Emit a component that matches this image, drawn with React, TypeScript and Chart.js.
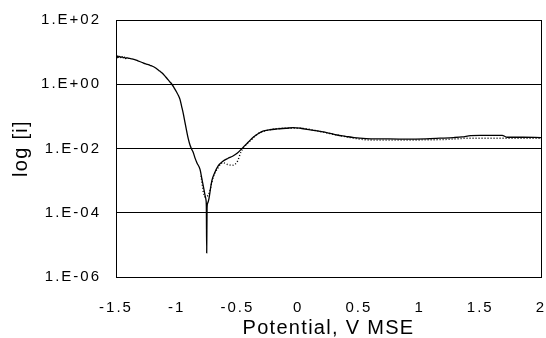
import React, { useEffect, useRef } from "react";
import { Chart, registerables } from "chart.js";

Chart.register(...registerables);

// Potential (V MSE) and log10 of current for the solid curve
const solidPotential = [
  -1.5, -1.495, -1.49, -1.485, -1.48, -1.47, -1.46, -1.45, -1.44, -1.43, -1.42, -1.41, -1.4,
  -1.38, -1.36, -1.34, -1.32, -1.3, -1.28, -1.26, -1.24, -1.22, -1.2, -1.18, -1.16, -1.14,
  -1.12, -1.1, -1.08, -1.06, -1.04, -1.02, -1.0, -0.985, -0.973, -0.96, -0.945, -0.932, -0.918,
  -0.904, -0.89, -0.876, -0.863, -0.849, -0.833, -0.808, -0.792, -0.777, -0.767, -0.759, -0.756,
  -0.753, -0.75, -0.745, -0.734, -0.72, -0.709, -0.69, -0.66, -0.62, -0.58, -0.54, -0.5, -0.45,
  -0.41, -0.37, -0.33, -0.29, -0.24, -0.17, -0.1, -0.04, 0.02, 0.1, 0.18, 0.25, 0.32, 0.39, 0.46,
  0.56, 0.7, 0.89, 1.05, 1.17, 1.28, 1.35, 1.42, 1.5, 1.6, 1.68, 1.72, 1.85, 2.0,
];
const solidLogCurrent = [
  0.78, 0.86, 0.82, 0.88, 0.84, 0.87, 0.83, 0.86, 0.82, 0.84, 0.8, 0.83, 0.81,
  0.8, 0.78, 0.76, 0.73, 0.7, 0.67, 0.64, 0.62, 0.59, 0.56, 0.52, 0.47, 0.41,
  0.35, 0.27, 0.18, 0.09, 0.0, -0.12, -0.25, -0.36, -0.47, -0.68, -0.93, -1.19, -1.46,
  -1.71, -1.9, -2.03, -2.13, -2.3, -2.45, -2.65, -2.96, -3.25, -3.45, -3.6, -3.8,
  -5.25, -3.85, -3.7, -3.55, -3.2, -2.98, -2.78, -2.55, -2.4, -2.31, -2.24, -2.14, -1.95,
  -1.8, -1.65, -1.54, -1.46, -1.42, -1.39, -1.37, -1.35, -1.37, -1.42, -1.47, -1.52, -1.58, -1.62, -1.66,
  -1.69, -1.7, -1.71, -1.7, -1.68, -1.66, -1.64, -1.6, -1.59, -1.59, -1.59, -1.65, -1.65, -1.66,
];

// Dotted curve (second scan)
const dottedPotential = [
  -0.8, -0.77, -0.74, -0.7, -0.66, -0.62, -0.58, -0.54, -0.5, -0.47, -0.44, -0.4, -0.33, -0.24,
  -0.1, 0.02, 0.18, 0.32, 0.46, 0.56, 0.7, 0.89, 1.05, 1.2, 1.3, 1.4, 1.6, 1.8, 2.0,
];
const dottedLogCurrent = [
  -2.85, -3.5, -3.45, -2.9, -2.6, -2.44, -2.5, -2.52, -2.4, -2.1, -1.93, -1.78, -1.54, -1.42,
  -1.37, -1.37, -1.47, -1.58, -1.68, -1.73, -1.74, -1.74, -1.73, -1.72, -1.7, -1.68, -1.68, -1.68, -1.68,
];

const yTickValues = [1e-6, 1e-4, 1e-2, 1, 100];
const yTickLabels = ["1.E-06", "1.E-04", "1.E-02", "1.E+00", "1.E+02"];
const xTickLabels = ["-1.5", "-1", "-0.5", "0", "0.5", "1", "1.5", "2"];

const FONT = "'Liberation Sans', Arial, sans-serif";

const spacingPlugin = {
  id: "letterSpacing",
  beforeLayout(chart: any) {
    chart.ctx.letterSpacing = "2px";
  },
  beforeDraw(chart: any) {
    chart.ctx.letterSpacing = "1.3px";
  },
  afterDatasetsDraw(chart: any) {
    chart.ctx.letterSpacing = "2px";
  },
};

export default function App() {
  const ref = useRef<HTMLCanvasElement | null>(null);

  useEffect(() => {
    if (!ref.current) return;
    document.body.style.margin = "0";
    const solid = solidPotential.map((x, i) => ({ x, y: Math.pow(10, solidLogCurrent[i]) }));
    const dotted = dottedPotential.map((x, i) => ({ x, y: Math.pow(10, dottedLogCurrent[i]) }));

    const chart = new Chart(ref.current, {
      type: "line",
      data: {
        datasets: [
          {
            data: dotted,
            borderColor: "#000",
            borderWidth: 1.4,
            borderDash: [1, 2],
            pointRadius: 0,
            cubicInterpolationMode: "monotone",
          },
          {
            data: solid,
            borderColor: "#000",
            borderWidth: 1.3,
            pointRadius: 0,
            cubicInterpolationMode: "monotone",
          },
        ],
      },
      plugins: [spacingPlugin],
      options: {
        animation: false,
        responsive: false,
        devicePixelRatio: 1,
        parsing: false,
        layout: { padding: { top: 20, right: 5, left: 0, bottom: 0 } },
        plugins: { legend: { display: false }, tooltip: { enabled: false } },
        scales: {
          x: {
            type: "linear",
            min: -1.5,
            max: 2,
            ticks: {
              stepSize: 0.5,
              padding: 22,
              color: "#000",
              font: { family: FONT, size: 15 },
              z: 1,
              maxRotation: 0,
              callback: (_v: any, i: number) => xTickLabels[i],
            },
            grid: {
              drawTicks: false,
              color: (ctx: any) => (ctx.tick && ctx.tick.value === 2 ? "#000" : "rgba(0,0,0,0)"),
              lineWidth: 1,
            },
            border: { color: "#000", width: 1 },
            title: {
              display: true,
              text: "Potential, V MSE",
              color: "#000",
              font: { family: FONT, size: 20, lineHeight: 1 },
              padding: { top: 0, bottom: 0 },
            },
            afterFit: (s: any) => {
              s.height = 61;
              s.paddingLeft = 0;
              s.paddingRight = 0;
              s.paddingTop = 0;
              s.paddingBottom = 0;
            },
          },
          y: {
            type: "logarithmic",
            min: 1e-6,
            max: 100,
            afterBuildTicks: (s: any) => {
              s.ticks = yTickValues.map((v) => ({ value: v }));
            },
            ticks: {
              padding: 15,
              color: "#000",
              font: { family: FONT, size: 15 },
              z: 1,
              autoSkip: false,
              callback: (_v: any, i: number) => yTickLabels[i],
            },
            grid: { drawTicks: false, color: "#000", lineWidth: 1 },
            border: { color: "#000", width: 1 },
            title: {
              display: true,
              text: "log [i]",
              color: "#000",
              font: { family: FONT, size: 20, lineHeight: 1 },
              padding: { top: 11, bottom: 0 },
            },
            afterFit: (s: any) => {
              s.width = 116;
              s.paddingLeft = 0;
              s.paddingRight = 0;
              s.paddingTop = 0;
              s.paddingBottom = 0;
            },
          },
        },
      },
    } as any);
    return () => chart.destroy();
  }, []);

  return (
    <div style={{ position: "fixed", left: 0, top: 0, width: 546, height: 338, background: "#fff" }}>
      <canvas ref={ref} width={546} height={338} />
    </div>
  );
}
